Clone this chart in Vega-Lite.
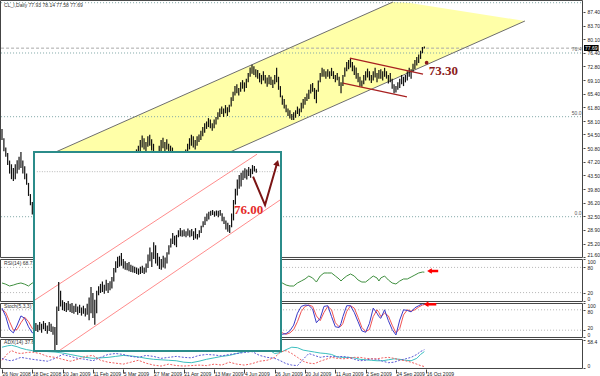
{
"$schema": "https://vega.github.io/schema/vega-lite/v6.json",
"width": 600, "height": 376, "autosize": "none", "padding": 0, "background": "white",
"config": {"view": {"stroke": null}, "axis": {"grid": false}},
"datasets": {
"price": [
{"i":0,"h":56.0,"l":53.0},{"i":1,"h":53.5,"l":50.0},{"i":2,"h":51.0,"l":48.5},{"i":3,"h":49.5,"l":46.3},{"i":4,"h":47.5,"l":44.0},{"i":5,"h":46.5,"l":42.5},{"i":6,"h":45.5,"l":42.0},{"i":7,"h":46.5,"l":42.5},{"i":8,"h":47.6,"l":44.0},{"i":9,"h":48.5,"l":45.0},
{"i":10,"h":49.8,"l":45.5},{"i":11,"h":47.5,"l":44.0},{"i":12,"h":46.0,"l":42.5},{"i":13,"h":44.0,"l":41.0},{"i":14,"h":41.5,"l":38.0},{"i":15,"h":38.5,"l":35.5},{"i":16,"h":36.4,"l":33.0},{"i":17,"h":34.5,"l":32.4},{"i":18,"h":38.5,"l":34.5},{"i":19,"h":40.0,"l":36.5},
{"i":20,"h":39.5,"l":36.8},{"i":21,"h":41.5,"l":38.0},{"i":22,"h":42.5,"l":39.5},{"i":23,"h":41.0,"l":38.2},{"i":24,"h":43.5,"l":40.0},{"i":25,"h":45.5,"l":42.0},{"i":26,"h":47.5,"l":44.0},{"i":27,"h":48.5,"l":45.0},{"i":28,"h":46.5,"l":43.0},{"i":29,"h":44.0,"l":40.5},
{"i":30,"h":43.0,"l":39.5},{"i":31,"h":41.5,"l":37.5},{"i":32,"h":39.0,"l":35.5},{"i":33,"h":38.0,"l":34.8},{"i":34,"h":39.5,"l":36.0},{"i":35,"h":41.0,"l":37.5},{"i":36,"h":43.5,"l":40.0},{"i":37,"h":44.5,"l":41.0},{"i":38,"h":42.5,"l":39.0},{"i":39,"h":43.0,"l":40.0},
{"i":40,"h":44.5,"l":41.5},{"i":41,"h":45.5,"l":42.5},{"i":42,"h":44.0,"l":41.0},{"i":43,"h":42.0,"l":39.0},{"i":44,"h":41.0,"l":38.0},{"i":45,"h":42.5,"l":39.5},{"i":46,"h":41.5,"l":38.5},{"i":47,"h":40.0,"l":37.0},{"i":48,"h":38.5,"l":35.5},{"i":49,"h":37.5,"l":34.5},
{"i":50,"h":36.5,"l":33.8},{"i":51,"h":37.5,"l":34.5},{"i":52,"h":39.0,"l":36.0},{"i":53,"h":40.5,"l":37.5},{"i":54,"h":42.0,"l":39.0},{"i":55,"h":41.5,"l":38.5},{"i":56,"h":40.5,"l":37.5},{"i":57,"h":42.5,"l":39.5},{"i":58,"h":44.5,"l":41.0},{"i":59,"h":45.5,"l":42.0},
{"i":60,"h":44.5,"l":41.5},{"i":61,"h":43.0,"l":40.0},{"i":62,"h":44.0,"l":41.0},{"i":63,"h":45.5,"l":42.5},{"i":64,"h":46.5,"l":43.5},{"i":65,"h":47.0,"l":44.0},{"i":66,"h":48.0,"l":45.0},{"i":67,"h":47.5,"l":44.5},{"i":68,"h":49.0,"l":46.0},{"i":69,"h":50.0,"l":47.0},
{"i":70,"h":49.5,"l":46.5},{"i":71,"h":50.5,"l":47.5},{"i":72,"h":51.5,"l":48.5},{"i":73,"h":53.0,"l":50.0},{"i":74,"h":54.2,"l":51.0},{"i":75,"h":53.5,"l":50.5},{"i":76,"h":52.5,"l":49.8},{"i":77,"h":54.0,"l":51.2},{"i":78,"h":54.4,"l":51.5},{"i":79,"h":53.2,"l":50.2},
{"i":80,"h":52.0,"l":49.0},{"i":81,"h":50.0,"l":47.0},{"i":82,"h":49.5,"l":46.5},{"i":83,"h":51.5,"l":48.5},{"i":84,"h":53.0,"l":50.0},{"i":85,"h":53.6,"l":50.8},{"i":86,"h":52.5,"l":49.8},{"i":87,"h":53.2,"l":50.5},{"i":88,"h":52.0,"l":49.5},{"i":89,"h":51.5,"l":49.0},
{"i":90,"h":51.0,"l":48.5},{"i":91,"h":49.5,"l":46.5},{"i":92,"h":48.5,"l":45.5},{"i":93,"h":49.0,"l":46.0},{"i":94,"h":48.0,"l":45.2},{"i":95,"h":49.5,"l":46.5},{"i":96,"h":50.0,"l":47.0},{"i":97,"h":50.5,"l":48.0},{"i":98,"h":52.0,"l":49.5},{"i":99,"h":53.5,"l":50.5},
{"i":100,"h":54.4,"l":51.5},{"i":101,"h":54.0,"l":51.0},{"i":102,"h":53.0,"l":50.5},{"i":103,"h":54.0,"l":51.5},{"i":104,"h":54.5,"l":52.5},{"i":105,"h":55.5,"l":53.0},{"i":106,"h":56.5,"l":54.0},{"i":107,"h":57.5,"l":55.0},{"i":108,"h":58.0,"l":56.0},{"i":109,"h":58.9,"l":56.5},
{"i":110,"h":58.5,"l":56.2},{"i":111,"h":57.5,"l":55.5},{"i":112,"h":58.5,"l":56.2},{"i":113,"h":59.2,"l":57.2},{"i":114,"h":60.5,"l":58.5},{"i":115,"h":61.5,"l":59.2},{"i":116,"h":62.0,"l":60.0},{"i":117,"h":61.5,"l":59.2},{"i":118,"h":62.4,"l":60.2},{"i":119,"h":61.8,"l":59.5},
{"i":120,"h":62.5,"l":60.5},{"i":121,"h":64.5,"l":62.0},{"i":122,"h":66.0,"l":63.5},{"i":123,"h":67.5,"l":65.0},{"i":124,"h":68.0,"l":65.6},{"i":125,"h":67.0,"l":65.0},{"i":126,"h":68.5,"l":66.0},{"i":127,"h":69.1,"l":66.8},{"i":128,"h":68.5,"l":66.0},{"i":129,"h":69.5,"l":67.0},
{"i":130,"h":71.0,"l":68.5},{"i":131,"h":72.5,"l":70.0},{"i":132,"h":73.2,"l":70.8},{"i":133,"h":72.8,"l":70.5},{"i":134,"h":72.0,"l":69.9},{"i":135,"h":71.8,"l":69.5},{"i":136,"h":71.0,"l":68.5},{"i":137,"h":70.5,"l":68.0},{"i":138,"h":71.5,"l":69.0},{"i":139,"h":70.5,"l":68.2},
{"i":140,"h":69.8,"l":67.3},{"i":141,"h":70.5,"l":68.0},{"i":142,"h":70.0,"l":67.8},{"i":143,"h":69.2,"l":67.0},{"i":144,"h":70.5,"l":68.0},{"i":145,"h":72.4,"l":68.5},{"i":146,"h":70.0,"l":66.5},{"i":147,"h":67.5,"l":64.5},{"i":148,"h":65.0,"l":62.5},{"i":149,"h":64.0,"l":61.5},
{"i":150,"h":62.5,"l":60.5},{"i":151,"h":61.5,"l":59.5},{"i":152,"h":61.0,"l":58.8},{"i":153,"h":60.0,"l":58.4},{"i":154,"h":60.5,"l":58.4},{"i":155,"h":61.0,"l":59.0},{"i":156,"h":62.0,"l":60.0},{"i":157,"h":61.5,"l":59.5},{"i":158,"h":63.0,"l":60.5},{"i":159,"h":64.0,"l":61.5},
{"i":160,"h":64.6,"l":62.5},{"i":161,"h":65.5,"l":63.5},{"i":162,"h":66.5,"l":64.0},{"i":163,"h":68.0,"l":65.5},{"i":164,"h":68.3,"l":66.0},{"i":165,"h":67.0,"l":64.0},{"i":166,"h":66.5,"l":62.9},{"i":167,"h":69.0,"l":66.0},{"i":168,"h":71.0,"l":68.5},{"i":169,"h":72.4,"l":70.0},
{"i":170,"h":72.0,"l":70.0},{"i":171,"h":71.5,"l":69.5},{"i":172,"h":72.0,"l":70.0},{"i":173,"h":71.5,"l":69.5},{"i":174,"h":72.4,"l":70.2},{"i":175,"h":71.5,"l":69.4},{"i":176,"h":70.5,"l":68.5},{"i":177,"h":71.0,"l":69.1},{"i":178,"h":70.0,"l":67.5},{"i":179,"h":68.5,"l":65.6},
{"i":180,"h":70.5,"l":67.5},{"i":181,"h":72.5,"l":70.0},{"i":182,"h":74.0,"l":71.5},{"i":183,"h":74.5,"l":72.0},{"i":184,"h":75.0,"l":72.5},{"i":185,"h":74.0,"l":71.5},{"i":186,"h":73.0,"l":70.5},{"i":187,"h":72.5,"l":69.5},{"i":188,"h":71.0,"l":68.5},{"i":189,"h":70.0,"l":67.5},
{"i":190,"h":69.0,"l":67.3},{"i":191,"h":70.5,"l":68.0},{"i":192,"h":71.5,"l":69.0},{"i":193,"h":72.2,"l":69.8},{"i":194,"h":71.5,"l":69.0},{"i":195,"h":70.5,"l":68.3},{"i":196,"h":71.5,"l":69.0},{"i":197,"h":72.4,"l":69.8},{"i":198,"h":71.0,"l":68.5},{"i":199,"h":71.8,"l":69.5},
{"i":200,"h":72.0,"l":69.5},{"i":201,"h":71.5,"l":69.0},{"i":202,"h":72.4,"l":70.0},{"i":203,"h":71.5,"l":69.5},{"i":204,"h":70.5,"l":68.2},{"i":205,"h":71.0,"l":68.5},{"i":206,"h":69.5,"l":66.8},{"i":207,"h":68.0,"l":65.6},{"i":208,"h":67.5,"l":65.8},{"i":209,"h":68.5,"l":66.5},
{"i":210,"h":69.5,"l":67.0},{"i":211,"h":70.5,"l":68.0},{"i":212,"h":70.0,"l":67.5},{"i":213,"h":70.5,"l":68.5},{"i":214,"h":71.5,"l":69.0},{"i":215,"h":72.4,"l":70.0},{"i":216,"h":72.0,"l":69.5},{"i":217,"h":73.5,"l":71.3},{"i":218,"h":74.5,"l":72.0},{"i":219,"h":75.3,"l":73.0},
{"i":220,"h":76.0,"l":73.7},{"i":221,"h":77.0,"l":74.8},{"i":222,"h":78.0,"l":76.3},{"i":223,"h":78.14,"l":77.58}
],
"ind": [
{"i":0,"rsi":42.9,"k":85,"d":80},{"i":2,"rsi":40,"k":60,"d":72},{"i":4,"rsi":35.7,"k":22,"d":45},{"i":6,"rsi":38,"k":12,"d":20},{"i":8,"rsi":41,"k":35,"d":22},{"i":10,"rsi":42.9,"k":62,"d":42},{"i":12,"rsi":40,"k":55,"d":58},{"i":14,"rsi":35.7,"k":30,"d":45},{"i":16,"rsi":42.9,"k":12,"d":25},
{"i":18,"rsi":40,"k":20,"d":15},{"i":26,"rsi":55,"k":80,"d":70},{"i":34,"rsi":45,"k":30,"d":40},{"i":42,"rsi":52,"k":70,"d":60},{"i":50,"rsi":40,"k":15,"d":20},{"i":58,"rsi":55,"k":80,"d":70},{"i":66,"rsi":60,"k":85,"d":80},{"i":74,"rsi":62,"k":75,"d":80},{"i":82,"rsi":50,"k":30,"d":40},{"i":90,"rsi":52,"k":60,"d":55},{"i":98,"rsi":58,"k":70,"d":60},{"i":106,"rsi":65,"k":90,"d":85},{"i":114,"rsi":70,"k":88,"d":90},{"i":122,"rsi":72,"k":92,"d":90},{"i":130,"rsi":72,"k":85,"d":88},{"i":138,"rsi":55,"k":40,"d":50},{"i":146,"rsi":45,"k":15,"d":25},
{"i":148,"rsi":42.9,"k":8,"d":12},{"i":150,"rsi":38,"k":10,"d":8},{"i":152,"rsi":35.7,"k":18,"d":12},{"i":154,"rsi":35.7,"k":35,"d":22},{"i":156,"rsi":42.9,"k":70,"d":45},{"i":158,"rsi":47.6,"k":90,"d":75},{"i":160,"rsi":52.4,"k":94,"d":90},{"i":162,"rsi":59.5,"k":93,"d":94},{"i":164,"rsi":54.8,"k":82,"d":90},{"i":166,"rsi":45.2,"k":42,"d":62},
{"i":168,"rsi":59.5,"k":55,"d":48},{"i":170,"rsi":66.7,"k":90,"d":72},{"i":172,"rsi":66.7,"k":92,"d":90},{"i":174,"rsi":66.7,"k":60,"d":80},{"i":176,"rsi":59.5,"k":30,"d":42},{"i":178,"rsi":52.4,"k":28,"d":30},{"i":179,"rsi":47.6,"k":40,"d":32},{"i":180,"rsi":52.4,"k":60,"d":40},{"i":182,"rsi":59.5,"k":92,"d":75},{"i":184,"rsi":64.3,"k":92,"d":92},
{"i":186,"rsi":59.5,"k":72,"d":85},{"i":188,"rsi":50,"k":45,"d":58},{"i":190,"rsi":45.2,"k":18,"d":28},{"i":192,"rsi":45.2,"k":14,"d":16},{"i":194,"rsi":52.4,"k":40,"d":22},{"i":196,"rsi":59.5,"k":85,"d":60},{"i":198,"rsi":54.8,"k":70,"d":80},{"i":199,"rsi":47.6,"k":60,"d":72},{"i":200,"rsi":54.8,"k":55,"d":60},{"i":202,"rsi":59.5,"k":80,"d":70},
{"i":204,"rsi":50,"k":48,"d":62},{"i":206,"rsi":42.9,"k":22,"d":35},{"i":208,"rsi":40.5,"k":6,"d":12},{"i":210,"rsi":47.6,"k":50,"d":25},{"i":212,"rsi":52.4,"k":80,"d":65},{"i":214,"rsi":52.4,"k":78,"d":80},{"i":216,"rsi":57.1,"k":74,"d":76},{"i":218,"rsi":61.9,"k":86,"d":80},{"i":220,"rsi":66.7,"k":92,"d":88},{"i":222,"rsi":69,"k":98,"d":94},{"i":223,"rsi":68.7,"k":96,"d":95}
],
"adx": [
{"i":0,"a":43,"p":20,"m":16},{"i":3,"a":46,"p":16,"m":30},{"i":5,"a":47,"p":15,"m":36},{"i":8,"a":44,"p":19,"m":31},{"i":10,"a":41,"p":22,"m":30},{"i":13,"a":38,"p":20,"m":32},{"i":16,"a":36,"p":18,"m":33},{"i":20,"a":35,"p":16,"m":30},{"i":24,"a":34,"p":14,"m":24},{"i":28,"a":33,"p":20,"m":22},
{"i":32,"a":31,"p":28,"m":18},{"i":36,"a":28,"p":24,"m":14},{"i":40,"a":25,"p":20,"m":18},{"i":44,"a":22,"p":18,"m":24},{"i":48,"a":20,"p":15,"m":26},{"i":52,"a":21,"p":22,"m":16},{"i":56,"a":22,"p":28,"m":12},{"i":60,"a":24,"p":30,"m":10},{"i":64,"a":26,"p":28,"m":8},{"i":68,"a":25,"p":24,"m":12},
{"i":72,"a":23,"p":22,"m":16},{"i":76,"a":20,"p":26,"m":10},{"i":80,"a":18,"p":24,"m":6},{"i":84,"a":17,"p":20,"m":4},{"i":88,"a":16,"p":22,"m":8},{"i":92,"a":15,"p":24,"m":5},{"i":96,"a":12,"p":22,"m":4},{"i":100,"a":11,"p":21,"m":5},{"i":104,"a":14,"p":26,"m":6},{"i":108,"a":18,"p":28,"m":5},
{"i":112,"a":21,"p":27,"m":8},{"i":116,"a":24,"p":25,"m":6},{"i":120,"a":26,"p":28,"m":12},{"i":124,"a":30,"p":30,"m":8},{"i":128,"a":34,"p":32,"m":6},{"i":132,"a":39,"p":34,"m":9},{"i":136,"a":41,"p":26,"m":14},{"i":140,"a":40,"p":22,"m":16},{"i":144,"a":30,"p":20,"m":22},{"i":147,"a":32,"p":15,"m":33},
{"i":150,"a":38,"p":9,"m":36},{"i":153,"a":43,"p":6,"m":30},{"i":156,"a":42,"p":5,"m":22},{"i":159,"a":37,"p":18,"m":14},{"i":162,"a":35,"p":30,"m":10},{"i":165,"a":33,"p":26,"m":9},{"i":168,"a":31,"p":22,"m":14},{"i":171,"a":30,"p":24,"m":18},{"i":174,"a":28,"p":24,"m":22},{"i":177,"a":23,"p":23,"m":20},
{"i":180,"a":22,"p":24,"m":19},{"i":183,"a":22,"p":22,"m":20},{"i":186,"a":21,"p":18,"m":22},{"i":189,"a":18,"p":15,"m":22},{"i":192,"a":17,"p":16,"m":20},{"i":195,"a":16,"p":19,"m":19},{"i":198,"a":15,"p":18,"m":19},{"i":201,"a":15,"p":14,"m":21},{"i":204,"a":17,"p":11,"m":22},{"i":207,"a":19,"p":12,"m":20},
{"i":210,"a":18,"p":16,"m":17},{"i":213,"a":16,"p":19,"m":15},{"i":216,"a":15,"p":22,"m":12},{"i":219,"a":20,"p":28,"m":8},{"i":221,"a":28,"p":34,"m":5},{"i":223,"a":34,"p":38,"m":3}
],
"inset": [
{"j":1,"h":38.4,"l":36.6},{"j":2,"h":38.0,"l":36.4},{"j":3,"h":38.6,"l":36.8},{"j":4,"h":38.2,"l":36.2},{"j":5,"h":38.8,"l":37.0},{"j":6,"h":38.4,"l":36.6},{"j":7,"h":37.8,"l":36.0},{"j":8,"h":38.6,"l":36.6},{"j":9,"h":38.2,"l":36.4},{"j":10,"h":37.6,"l":35.8},
{"j":11,"h":37.5,"l":32.4},{"j":12,"h":42.0,"l":33.5},{"j":13,"h":47.4,"l":41.0},{"j":14,"h":45.5,"l":42.0},{"j":15,"h":43.4,"l":41.2},{"j":16,"h":43.0,"l":41.0},{"j":17,"h":42.8,"l":40.8},{"j":18,"h":43.2,"l":41.2},{"j":19,"h":42.6,"l":40.8},{"j":20,"h":42.8,"l":40.6},
{"j":21,"h":42.2,"l":40.4},{"j":22,"h":42.6,"l":40.8},{"j":23,"h":42.0,"l":40.2},{"j":24,"h":42.4,"l":40.6},{"j":25,"h":41.8,"l":40.0},{"j":26,"h":42.2,"l":40.4},{"j":27,"h":41.6,"l":39.8},{"j":28,"h":42.6,"l":40.2},{"j":29,"h":44.0,"l":39.0},{"j":30,"h":46.3,"l":40.5},
{"j":31,"h":45.0,"l":39.5},{"j":32,"h":43.5,"l":38.0},{"j":33,"h":45.5,"l":40.5},{"j":34,"h":46.5,"l":44.5},{"j":35,"h":47.0,"l":45.0},{"j":36,"h":47.5,"l":45.2},{"j":37,"h":46.8,"l":44.8},{"j":38,"h":47.9,"l":45.5},{"j":39,"h":47.2,"l":45.0},{"j":40,"h":47.6,"l":45.6},
{"j":41,"h":48.5,"l":46.0},{"j":42,"h":50.5,"l":47.5},{"j":43,"h":52.0,"l":49.5},{"j":44,"h":53.0,"l":50.5},{"j":45,"h":53.2,"l":50.8},{"j":46,"h":53.8,"l":51.0},{"j":47,"h":52.5,"l":50.4},{"j":48,"h":52.0,"l":50.1},{"j":49,"h":51.6,"l":50.0},{"j":50,"h":51.8,"l":49.8},
{"j":51,"h":51.2,"l":49.6},{"j":52,"h":51.0,"l":49.5},{"j":53,"h":50.8,"l":49.4},{"j":54,"h":50.6,"l":49.2},{"j":55,"h":50.4,"l":49.0},{"j":56,"h":50.8,"l":49.2},{"j":57,"h":51.0,"l":49.4},{"j":58,"h":50.6,"l":49.2},{"j":59,"h":51.5,"l":49.5},{"j":60,"h":53.5,"l":50.5},
{"j":61,"h":55.0,"l":52.0},{"j":62,"h":54.0,"l":50.7},{"j":63,"h":56.2,"l":52.5},{"j":64,"h":55.5,"l":51.5},{"j":65,"h":53.8,"l":51.0},{"j":66,"h":53.0,"l":50.3},{"j":67,"h":52.5,"l":50.1},{"j":68,"h":53.2,"l":50.6},{"j":69,"h":52.8,"l":50.4},{"j":70,"h":54.0,"l":51.5},
{"j":71,"h":55.5,"l":53.5},{"j":72,"h":57.0,"l":55.0},{"j":73,"h":58.2,"l":55.8},{"j":74,"h":57.6,"l":55.5},{"j":75,"h":57.8,"l":55.1},{"j":76,"h":58.8,"l":57.3},{"j":77,"h":59.3,"l":57.5},{"j":78,"h":58.8,"l":57.4},{"j":79,"h":59.0,"l":57.5},{"j":80,"h":58.6,"l":57.3},
{"j":81,"h":59.2,"l":57.6},{"j":82,"h":58.8,"l":57.3},{"j":83,"h":59.1,"l":57.5},{"j":84,"h":58.6,"l":56.7},{"j":85,"h":59.3,"l":57.0},{"j":86,"h":58.0,"l":56.8},{"j":87,"h":58.8,"l":57.2},{"j":88,"h":59.8,"l":58.2},{"j":89,"h":60.8,"l":59.5},{"j":90,"h":61.8,"l":60.0},
{"j":91,"h":62.5,"l":60.8},{"j":92,"h":62.9,"l":61.2},{"j":93,"h":63.1,"l":62.0},{"j":94,"h":63.3,"l":62.2},{"j":95,"h":63.0,"l":61.8},{"j":96,"h":63.2,"l":62.0},{"j":97,"h":63.1,"l":61.7},{"j":98,"h":63.3,"l":62.0},{"j":99,"h":62.6,"l":60.8},{"j":100,"h":61.8,"l":60.2},
{"j":101,"h":61.0,"l":59.0},{"j":102,"h":60.5,"l":58.5},{"j":103,"h":60.0,"l":58.2},{"j":104,"h":62.5,"l":59.5},{"j":105,"h":65.5,"l":61.0},{"j":106,"h":68.0,"l":64.5},{"j":107,"h":70.0,"l":66.5},{"j":108,"h":71.0,"l":68.0},{"j":109,"h":71.5,"l":68.5},{"j":110,"h":72.0,"l":69.9},
{"j":111,"h":72.5,"l":70.3},{"j":112,"h":72.2,"l":70.0},{"j":113,"h":72.8,"l":70.8},{"j":114,"h":72.4,"l":70.4},{"j":115,"h":73.2,"l":71.2},{"j":116,"h":73.0,"l":71.8},{"j":117,"h":72.4,"l":71.5}
],
"band": [{"i":20.06,"top":47.92,"bot":27.13},{"i":206.4,"top":90.08,"bot":69.24},{"i":215.4,"top":89.81,"bot":71.28},{"i":276.1,"top":84.98,"bot":84.98}],
"chan": [{"ln":"u","i":20.06,"p":47.92},{"ln":"u","i":206.4,"p":90.08},{"ln":"l","i":20.06,"p":27.13},{"ln":"l","i":276.1,"p":84.98}],
"flag": [{"ln":"u","i":183.7,"p":75.04},{"ln":"u","i":222.3,"p":70.7},{"ln":"l","i":180,"p":68.3},{"ln":"l","i":213.8,"p":64.6}],
"fib": [{"p":89.89,"lab":""},{"p":76.39,"lab":"76.4"},{"p":59.28,"lab":"50.0"},{"p":32.42,"lab":"0.0"}],
"bid": [{"p":77.69,"lab":"77.69"}],
"dot": [{"i":224.2,"p":73.78,"lab":"73.30"}],
"lev": [{"v":20},{"v":80}],
"ichan": [{"ln":"u","j":0.5,"p":43.45},{"ln":"u","j":117.4,"p":75.6},{"ln":"l","j":13.7,"p":32.4},{"ln":"l","j":129.5,"p":65.5}],
"vv": [{"j":115.3,"p":70.63},{"j":121.6,"p":64.39},{"j":128.0,"p":73.7}],
"vtip": [{"j":128.0,"p":73.7}],
"itxt": [{"j":112.9,"p":63.29,"t":"76.00"}],
"arrR": [{"a":225.7,"b":230.3,"v":71.4}],
"arrS": [{"a":223.9,"b":229.3,"v":96.2}]
},
"resolve": {"scale": {"x": "independent", "y": "independent"}, "axis": {"x": "independent", "y": "independent"}},
"layer": [
{"data": {"name": "band"}, "mark": {"type": "area", "color": "#FFFFA8"},
 "encoding": {"x": {"field": "i", "type": "quantitative", "scale": {"domain":[0,300],"range":[2,570.2],"nice":false,"zero":false}, "axis": null},
  "y": {"field": "top", "type": "quantitative", "scale": {"domain":[21.6,90.62],"range":[257,0],"nice":false,"zero":false}, "axis": null},
  "y2": {"field": "bot"}}},
{"data": {"name": "fib"}, "mark": {"type": "rule", "color": "#7FA6A6", "strokeDash": [1,2], "strokeWidth": 1},
 "encoding": {"x": {"datum": -0.5, "type": "quantitative", "scale": {"domain":[0,300],"range":[2,570.2],"nice":false,"zero":false}, "axis": null},
  "x2": {"datum": 306.5},
  "y": {"field": "p", "type": "quantitative", "scale": {"domain":[21.6,90.62],"range":[257,0],"nice":false,"zero":false}, "axis": null}}},
{"data": {"name": "fib"}, "mark": {"type": "text", "align": "right", "baseline": "bottom", "dy": -1, "fontSize": 5, "font": "Liberation Sans", "color": "#555"},
 "encoding": {"x": {"datum": 306, "type": "quantitative", "scale": {"domain":[0,300],"range":[2,570.2],"nice":false,"zero":false}, "axis": null},
  "y": {"field": "p", "type": "quantitative", "scale": {"domain":[21.6,90.62],"range":[257,0],"nice":false,"zero":false}, "axis": null},
  "text": {"field": "lab"}}},
{"data": {"name": "bid"}, "mark": {"type": "rule", "color": "#A8A8A8", "strokeDash": [3,2], "strokeWidth": 1},
 "encoding": {"x": {"datum": -0.5, "type": "quantitative", "scale": {"domain":[0,300],"range":[2,570.2],"nice":false,"zero":false}, "axis": null},
  "x2": {"datum": 306.5},
  "y": {"field": "p", "type": "quantitative", "scale": {"domain":[21.6,90.62],"range":[257,0],"nice":false,"zero":false}, "axis": null}}},
{"data": {"name": "lev"}, "mark": {"type": "rule", "color": "#B5B5B5", "strokeDash": [1,2], "strokeWidth": 1},
 "encoding": {"x": {"datum": -0.5, "type": "quantitative", "scale": {"domain":[0,300],"range":[2,570.2],"nice":false,"zero":false}, "axis": null},
  "x2": {"datum": 306.5},
  "y": {"field": "v", "type": "quantitative", "scale": {"domain":[0,100],"range":[301,259],"nice":false,"zero":false}, "axis": null}}},
{"data": {"name": "lev"}, "mark": {"type": "rule", "color": "#B5B5B5", "strokeDash": [1,2], "strokeWidth": 1},
 "encoding": {"x": {"datum": -0.5, "type": "quantitative", "scale": {"domain":[0,300],"range":[2,570.2],"nice":false,"zero":false}, "axis": null},
  "x2": {"datum": 306.5},
  "y": {"field": "v", "type": "quantitative", "scale": {"domain":[0,100],"range":[337,303],"nice":false,"zero":false}, "axis": null}}},
{"data": {"name": "chan"}, "mark": {"type": "line", "color": "#6E6E6E", "strokeWidth": 1},
 "encoding": {"x": {"field": "i", "type": "quantitative", "scale": {"domain":[0,300],"range":[2,570.2],"nice":false,"zero":false}, "axis": null},
  "y": {"field": "p", "type": "quantitative", "scale": {"domain":[21.6,90.62],"range":[257,0],"nice":false,"zero":false}, "axis": null},
  "detail": {"field": "ln"}}},
{"data": {"name": "price"}, "mark": {"type": "rule", "color": "#111111", "strokeWidth": 1.2},
 "encoding": {"x": {"field": "i", "type": "quantitative", "scale": {"domain":[0,300],"range":[2,570.2],"nice":false,"zero":false},
   "axis": {"orient": "bottom", "offset": -7, "values": [0,16,32,48,64,80,96,112,128,144,160,176,192,208,224],
    "labelExpr": "['26 Nov 2008','18 Dec 2008','20 Jan 2009','11 Feb 2009','5 Mar 2009','27 Mar 2009','21 Apr 2009','13 May 2009','4 Jun 2009','26 Jun 2009','20 Jul 2009','11 Aug 2009','2 Sep 2009','24 Sep 2009','16 Oct 2009'][round(datum.value/16)]",
    "labelAlign": "left", "labelBaseline": "top", "labelPadding": -2, "labelFontSize": 5, "labelFont": "Liberation Sans", "labelColor": "#222", "tickSize": 4, "tickColor": "#444", "domain": false, "title": null, "labelOverlap": false, "labelFlush": false, "labelBound": false}},
  "y": {"field": "l", "type": "quantitative", "scale": {"domain":[21.6,90.62],"range":[257,0],"nice":false,"zero":false},
   "axis": {"orient": "right", "offset": -17, "values": [21.6,25.2,28.9,32.5,36.2,39.8,43.5,47.2,50.8,54.5,58.1,61.8,65.4,69.1,72.8,76.4,80.1,83.7,87.4], "format": ".2f", "labelFontSize": 5, "labelFont": "Liberation Sans", "labelColor": "#222", "tickSize": 2, "tickColor": "#444", "labelPadding": 2, "domain": false, "title": null, "labelOverlap": false, "labelFlush": false, "labelBound": false,
    "labelBaseline": {"condition": {"test": "datum.value < 22", "value": "bottom"}, "value": "middle"}}},
  "y2": {"field": "h"}}},
{"data": {"name": "flag"}, "mark": {"type": "line", "color": "#A82020", "strokeWidth": 1.3},
 "encoding": {"x": {"field": "i", "type": "quantitative", "scale": {"domain":[0,300],"range":[2,570.2],"nice":false,"zero":false}, "axis": null},
  "y": {"field": "p", "type": "quantitative", "scale": {"domain":[21.6,90.62],"range":[257,0],"nice":false,"zero":false}, "axis": null},
  "detail": {"field": "ln"}}},
{"data": {"name": "dot"}, "mark": {"type": "point", "filled": true, "color": "#8B1A1A", "size": 14, "opacity": 1},
 "encoding": {"x": {"field": "i", "type": "quantitative", "scale": {"domain":[0,300],"range":[2,570.2],"nice":false,"zero":false}, "axis": null},
  "y": {"field": "p", "type": "quantitative", "scale": {"domain":[21.6,90.62],"range":[257,0],"nice":false,"zero":false}, "axis": null}}},
{"data": {"name": "dot"}, "mark": {"type": "text", "align": "left", "baseline": "middle", "dx": 2, "dy": 8, "font": "Liberation Serif", "fontWeight": "bold", "fontSize": 13, "color": "#8B1A1A"},
 "encoding": {"x": {"field": "i", "type": "quantitative", "scale": {"domain":[0,300],"range":[2,570.2],"nice":false,"zero":false}, "axis": null},
  "y": {"field": "p", "type": "quantitative", "scale": {"domain":[21.6,90.62],"range":[257,0],"nice":false,"zero":false}, "axis": null},
  "text": {"field": "lab"}}},
{"data": {"name": "ind"}, "mark": {"type": "line", "color": "#3F8F3F", "strokeWidth": 1},
 "encoding": {"x": {"field": "i", "type": "quantitative", "scale": {"domain":[0,300],"range":[2,570.2],"nice":false,"zero":false}, "axis": null},
  "y": {"field": "rsi", "type": "quantitative", "scale": {"domain":[0,100],"range":[301,259],"nice":false,"zero":false},
   "axis": {"orient": "right", "offset": -17, "values": [0,20,80,100], "format": "d", "labelFontSize": 5, "labelFont": "Liberation Sans", "labelColor": "#222", "tickSize": 2, "tickColor": "#444", "labelPadding": 2, "domain": false, "title": null, "labelOverlap": false, "labelFlush": false, "labelBound": false,
    "labelBaseline": {"condition": [{"test": "datum.value == 100", "value": "top"}, {"test": "datum.value == 0", "value": "bottom"}], "value": "middle"}}}}},
{"data": {"name": "ind"}, "mark": {"type": "line", "color": "#F05454", "strokeWidth": 1},
 "encoding": {"x": {"field": "i", "type": "quantitative", "scale": {"domain":[0,300],"range":[2,570.2],"nice":false,"zero":false}, "axis": null},
  "y": {"field": "d", "type": "quantitative", "scale": {"domain":[0,100],"range":[337,303],"nice":false,"zero":false}, "axis": null}}},
{"data": {"name": "ind"}, "mark": {"type": "line", "color": "#3A3AC8", "strokeWidth": 1},
 "encoding": {"x": {"field": "i", "type": "quantitative", "scale": {"domain":[0,300],"range":[2,570.2],"nice":false,"zero":false}, "axis": null},
  "y": {"field": "k", "type": "quantitative", "scale": {"domain":[0,100],"range":[337,303],"nice":false,"zero":false},
   "axis": {"orient": "right", "offset": -17, "values": [0,20,80,100], "format": "d", "labelFontSize": 5, "labelFont": "Liberation Sans", "labelColor": "#222", "tickSize": 2, "tickColor": "#444", "labelPadding": 2, "domain": false, "title": null, "labelOverlap": false, "labelFlush": false, "labelBound": false,
    "labelBaseline": {"condition": [{"test": "datum.value == 100", "value": "top"}, {"test": "datum.value == 80", "value": "top"}, {"test": "datum.value == 20", "value": "bottom"}, {"test": "datum.value == 0", "value": "bottom"}], "value": "middle"}}}}},
{"data": {"name": "adx"}, "mark": {"type": "line", "color": "#3CBFBF", "strokeWidth": 1},
 "encoding": {"x": {"field": "i", "type": "quantitative", "scale": {"domain":[0,300],"range":[2,570.2],"nice":false,"zero":false}, "axis": null},
  "y": {"field": "a", "type": "quantitative", "scale": {"domain":[0,60],"range":[368,339],"nice":false,"zero":false},
   "axis": {"orient": "right", "offset": -17, "values": [0,58.4], "format": ".1~f", "labelFontSize": 5, "labelFont": "Liberation Sans", "labelColor": "#222", "tickSize": 2, "tickColor": "#444", "labelPadding": 2, "domain": false, "title": null, "labelOverlap": false, "labelFlush": false, "labelBound": false,
    "labelBaseline": {"condition": [{"test": "datum.value > 50", "value": "top"}, {"test": "datum.value == 0", "value": "bottom"}], "value": "middle"}}}}},
{"data": {"name": "adx"}, "mark": {"type": "line", "color": "#5A5AD6", "strokeWidth": 1, "strokeDash": [2,1.5]},
 "encoding": {"x": {"field": "i", "type": "quantitative", "scale": {"domain":[0,300],"range":[2,570.2],"nice":false,"zero":false}, "axis": null},
  "y": {"field": "p", "type": "quantitative", "scale": {"domain":[0,60],"range":[368,339],"nice":false,"zero":false}, "axis": null}}},
{"data": {"name": "adx"}, "mark": {"type": "line", "color": "#F06060", "strokeWidth": 1, "strokeDash": [2,1.5]},
 "encoding": {"x": {"field": "i", "type": "quantitative", "scale": {"domain":[0,300],"range":[2,570.2],"nice":false,"zero":false}, "axis": null},
  "y": {"field": "m", "type": "quantitative", "scale": {"domain":[0,60],"range":[368,339],"nice":false,"zero":false}, "axis": null}}},
{"data": {"values": [{}]}, "mark": {"type": "rect", "filled": false, "stroke": "#444444", "strokeWidth": 1},
 "encoding": {"x": {"datum": -0.79, "type": "quantitative", "scale": {"domain":[0,300],"range":[2,570.2],"nice":false,"zero":false}, "axis": null}, "x2": {"datum": 306.5},
  "y": {"datum": 21.47, "type": "quantitative", "scale": {"domain":[21.6,90.62],"range":[257,0],"nice":false,"zero":false}, "axis": null}, "y2": {"datum": 90.49}}},
{"data": {"values": [{}]}, "mark": {"type": "rect", "filled": false, "stroke": "#444444", "strokeWidth": 1},
 "encoding": {"x": {"datum": -0.79, "type": "quantitative", "scale": {"domain":[0,300],"range":[2,570.2],"nice":false,"zero":false}, "axis": null}, "x2": {"datum": 306.5},
  "y": {"datum": -1.19, "type": "quantitative", "scale": {"domain":[0,100],"range":[301,259],"nice":false,"zero":false}, "axis": null}, "y2": {"datum": 98.81}}},
{"data": {"values": [{}]}, "mark": {"type": "rect", "filled": false, "stroke": "#444444", "strokeWidth": 1},
 "encoding": {"x": {"datum": -0.79, "type": "quantitative", "scale": {"domain":[0,300],"range":[2,570.2],"nice":false,"zero":false}, "axis": null}, "x2": {"datum": 306.5},
  "y": {"datum": -1.47, "type": "quantitative", "scale": {"domain":[0,100],"range":[337,303],"nice":false,"zero":false}, "axis": null}, "y2": {"datum": 98.53}}},
{"data": {"values": [{}]}, "mark": {"type": "rect", "filled": false, "stroke": "#444444", "strokeWidth": 1},
 "encoding": {"x": {"datum": -0.79, "type": "quantitative", "scale": {"domain":[0,300],"range":[2,570.2],"nice":false,"zero":false}, "axis": null}, "x2": {"datum": 306.5},
  "y": {"datum": -1.03, "type": "quantitative", "scale": {"domain":[0,60],"range":[368,339],"nice":false,"zero":false}, "axis": null}, "y2": {"datum": 58.97}}},
{"data": {"values": [{"t":"CL_I,Daily  77.93 78.14 77.58 77.69"}]}, "mark": {"type": "text", "align": "left", "baseline": "middle", "fontSize": 5, "font": "Liberation Sans", "color": "#333"},
 "encoding": {"x": {"datum": 1.1, "type": "quantitative", "scale": {"domain":[0,300],"range":[2,570.2],"nice":false,"zero":false}, "axis": null},
  "y": {"datum": 89.3, "type": "quantitative", "scale": {"domain":[21.6,90.62],"range":[257,0],"nice":false,"zero":false}, "axis": null}, "text": {"field": "t"}}},
{"data": {"values": [{"t":"RSI(14) 68.71"}]}, "mark": {"type": "text", "align": "left", "baseline": "middle", "fontSize": 5, "font": "Liberation Sans", "color": "#333"},
 "encoding": {"x": {"datum": 1.1, "type": "quantitative", "scale": {"domain":[0,300],"range":[2,570.2],"nice":false,"zero":false}, "axis": null},
  "y": {"datum": 90.5, "type": "quantitative", "scale": {"domain":[0,100],"range":[301,259],"nice":false,"zero":false}, "axis": null}, "text": {"field": "t"}}},
{"data": {"values": [{"t":"Stoch(5,3,3) 95.68 93.12"}]}, "mark": {"type": "text", "align": "left", "baseline": "middle", "fontSize": 5, "font": "Liberation Sans", "color": "#333"},
 "encoding": {"x": {"datum": 1.1, "type": "quantitative", "scale": {"domain":[0,300],"range":[2,570.2],"nice":false,"zero":false}, "axis": null},
  "y": {"datum": 90, "type": "quantitative", "scale": {"domain":[0,100],"range":[337,303],"nice":false,"zero":false}, "axis": null}, "text": {"field": "t"}}},
{"data": {"values": [{"t":"ADX(14) 37.65"}]}, "mark": {"type": "text", "align": "left", "baseline": "middle", "fontSize": 5, "font": "Liberation Sans", "color": "#333"},
 "encoding": {"x": {"datum": 1.1, "type": "quantitative", "scale": {"domain":[0,300],"range":[2,570.2],"nice":false,"zero":false}, "axis": null},
  "y": {"datum": 53.5, "type": "quantitative", "scale": {"domain":[0,60],"range":[368,339],"nice":false,"zero":false}, "axis": null}, "text": {"field": "t"}}},
{"data": {"values": [{}]}, "mark": {"type": "rect", "fill": "white", "stroke": "#2B8C8A", "strokeWidth": 2},
 "encoding": {"x": {"datum": 0, "type": "quantitative", "scale": {"domain":[0,130],"range":[34,281],"nice":false,"zero":false}, "axis": null}, "x2": {"datum": 130},
  "y": {"datum": 32.2, "type": "quantitative", "scale": {"domain":[32.2,76.08],"range":[351,152],"nice":false,"zero":false}, "axis": null}, "y2": {"datum": 76.08}}},
{"data": {"values": [{"p":71.74}]}, "mark": {"type": "rule", "color": "#B8B8B8", "strokeDash": [1,1.5], "strokeWidth": 1},
 "encoding": {"x": {"datum": 1.5, "type": "quantitative", "scale": {"domain":[0,130],"range":[34,281],"nice":false,"zero":false}, "axis": null}, "x2": {"datum": 129},
  "y": {"field": "p", "type": "quantitative", "scale": {"domain":[32.2,76.08],"range":[351,152],"nice":false,"zero":false}, "axis": null}}},
{"data": {"name": "ichan"}, "mark": {"type": "line", "color": "#FF8C8C", "strokeWidth": 1},
 "encoding": {"x": {"field": "j", "type": "quantitative", "scale": {"domain":[0,130],"range":[34,281],"nice":false,"zero":false}, "axis": null},
  "y": {"field": "p", "type": "quantitative", "scale": {"domain":[32.2,76.08],"range":[351,152],"nice":false,"zero":false}, "axis": null},
  "detail": {"field": "ln"}}},
{"data": {"name": "inset"}, "mark": {"type": "rule", "color": "#111111", "strokeWidth": 1.2},
 "encoding": {"x": {"field": "j", "type": "quantitative", "scale": {"domain":[0,130],"range":[34,281],"nice":false,"zero":false}, "axis": null},
  "y": {"field": "l", "type": "quantitative", "scale": {"domain":[32.2,76.08],"range":[351,152],"nice":false,"zero":false}, "axis": null},
  "y2": {"field": "h"}}},
{"data": {"name": "vv"}, "mark": {"type": "line", "color": "#7B1414", "strokeWidth": 2},
 "encoding": {"x": {"field": "j", "type": "quantitative", "scale": {"domain":[0,130],"range":[34,281],"nice":false,"zero":false}, "axis": null},
  "y": {"field": "p", "type": "quantitative", "scale": {"domain":[32.2,76.08],"range":[351,152],"nice":false,"zero":false}, "axis": null}}},
{"data": {"name": "vtip"}, "mark": {"type": "point", "shape": "triangle-up", "angle": 16, "filled": true, "color": "#7B1414", "size": 45, "opacity": 1},
 "encoding": {"x": {"field": "j", "type": "quantitative", "scale": {"domain":[0,130],"range":[34,281],"nice":false,"zero":false}, "axis": null},
  "y": {"field": "p", "type": "quantitative", "scale": {"domain":[32.2,76.08],"range":[351,152],"nice":false,"zero":false}, "axis": null}}},
{"data": {"name": "itxt"}, "mark": {"type": "text", "align": "center", "baseline": "middle", "font": "Liberation Serif", "fontWeight": "bold", "fontSize": 13, "color": "#E52B2B"},
 "encoding": {"x": {"field": "j", "type": "quantitative", "scale": {"domain":[0,130],"range":[34,281],"nice":false,"zero":false}, "axis": null},
  "y": {"field": "p", "type": "quantitative", "scale": {"domain":[32.2,76.08],"range":[351,152],"nice":false,"zero":false}, "axis": null},
  "text": {"field": "t"}}},
{"data": {"name": "arrR"}, "mark": {"type": "rule", "color": "#FF0000", "strokeWidth": 2.5},
 "encoding": {"x": {"field": "a", "type": "quantitative", "scale": {"domain":[0,300],"range":[2,570.2],"nice":false,"zero":false}, "axis": null}, "x2": {"field": "b"},
  "y": {"field": "v", "type": "quantitative", "scale": {"domain":[0,100],"range":[301,259],"nice":false,"zero":false}, "axis": null}}},
{"data": {"name": "arrR"}, "mark": {"type": "point", "shape": "triangle-left", "filled": true, "color": "#FF0000", "size": 30, "opacity": 1},
 "encoding": {"x": {"field": "a", "type": "quantitative", "scale": {"domain":[0,300],"range":[2,570.2],"nice":false,"zero":false}, "axis": null},
  "y": {"field": "v", "type": "quantitative", "scale": {"domain":[0,100],"range":[301,259],"nice":false,"zero":false}, "axis": null}}},
{"data": {"name": "arrS"}, "mark": {"type": "rule", "color": "#FF0000", "strokeWidth": 2.5},
 "encoding": {"x": {"field": "a", "type": "quantitative", "scale": {"domain":[0,300],"range":[2,570.2],"nice":false,"zero":false}, "axis": null}, "x2": {"field": "b"},
  "y": {"field": "v", "type": "quantitative", "scale": {"domain":[0,100],"range":[337,303],"nice":false,"zero":false}, "axis": null}}},
{"data": {"name": "arrS"}, "mark": {"type": "point", "shape": "triangle-left", "filled": true, "color": "#FF0000", "size": 30, "opacity": 1},
 "encoding": {"x": {"field": "a", "type": "quantitative", "scale": {"domain":[0,300],"range":[2,570.2],"nice":false,"zero":false}, "axis": null},
  "y": {"field": "v", "type": "quantitative", "scale": {"domain":[0,100],"range":[337,303],"nice":false,"zero":false}, "axis": null}}},
{"data": {"name": "bid"}, "mark": {"type": "rect", "color": "#000000"},
 "encoding": {"x": {"datum": 307.3, "type": "quantitative", "scale": {"domain":[0,300],"range":[2,570.2],"nice":false,"zero":false}, "axis": null}, "x2": {"datum": 315},
  "y": {"datum": 76.93, "type": "quantitative", "scale": {"domain":[21.6,90.62],"range":[257,0],"nice":false,"zero":false}, "axis": null}, "y2": {"datum": 78.54}}},
{"data": {"name": "bid"}, "mark": {"type": "text", "align": "center", "baseline": "middle", "fontSize": 5, "font": "Liberation Sans", "color": "white"},
 "encoding": {"x": {"datum": 311.1, "type": "quantitative", "scale": {"domain":[0,300],"range":[2,570.2],"nice":false,"zero":false}, "axis": null},
  "y": {"field": "p", "type": "quantitative", "scale": {"domain":[21.6,90.62],"range":[257,0],"nice":false,"zero":false}, "axis": null}, "text": {"field": "lab"}}}
]
}
